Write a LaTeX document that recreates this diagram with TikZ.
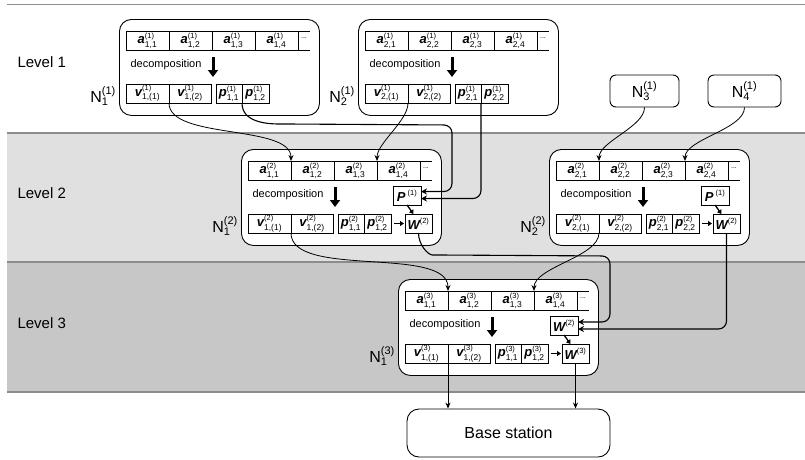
\documentclass[tikz,border=0pt]{standalone}
\usepackage{fontspec}
\setmainfont{Liberation Sans}
\usetikzlibrary{arrows.meta,calc}
\colorlet{bandLight}{black!12}
\colorlet{bandDark}{black!22}
\colorlet{bandLine}{black!45}
\tikzset{
agentstyle/.style={draw, rounded corners=12pt, line width=0.9pt, fill=white, minimum width=200pt, minimum height=96pt, anchor=north west},
cellstyle/.style={draw, line width=0.6pt, inner sep=0pt, outer sep=0pt, minimum height=19pt, anchor=north west, font=\fontsize{13}{14}\selectfont},
smallagent/.style={draw, rounded corners=6pt, line width=0.9pt, fill=white, minimum height=32pt, font=\fontsize{16}{18}\selectfont},
conn/.style={line width=0.8pt, -{Stealth[length=6pt,width=5pt]}},
connthick/.style={line width=1.1pt, rounded corners=8pt, -{Stealth[length=6pt,width=6pt]}},
bigarrow/.style={line width=3pt, -{Triangle[length=7pt,width=10pt]}},
smallarrow/.style={line width=1.3pt, -{Triangle[length=4pt,width=5pt]}}
}
\newcommand{\sym}[3]{$\mbox{\bfseries\itshape #1}^{\mbox{\fontsize{7.5}{8}\selectfont(#2)}}_{\mbox{\fontsize{8.5}{9}\selectfont #3}}$}
\newcommand{\bsym}[2]{$\mbox{\bfseries\itshape #1}^{\mbox{\fontsize{7.5}{8}\selectfont(#2)}}$}
\newcommand{\nlab}[2]{$\mbox{N}^{\mbox{\fontsize{11}{12}\selectfont(#2)}}_{\mbox{\fontsize{11}{12}\selectfont #1}}$}
% name, x, y, level, index
\newcommand{\agent}[5]{
  \node [agentstyle] (#1box) at (#2, #3) {};
  \foreach \i in {1,...,4}
  {
    \node [cellstyle, minimum width=43pt] (#1a\i) at ({#2 + 7 + 43*(\i-1)}, {#3 + 12}) {\sym{a}{#4}{#5,\i}};
  }
  \draw [line width=0.6pt] (#1a4.north east) -- ++(12, 0);
  \draw [line width=0.6pt] (#1a4.south east) -- ++(12, 0);
  \node [font=\fontsize{7}{8}\selectfont, inner sep=0pt] (#1dots) at ($(#1a4.east) + (6, -2)$) {...};

  \node [anchor=east, font=\fontsize{11}{13}\selectfont] (#1dec) at (#2 + 86, #3 + 46) {decomposition};
  \draw [bigarrow] (#2 + 94, #3 + 38) -- (#2 + 94, #3 + 58);

  \node [cellstyle, minimum width=43pt] (#1v1) at (#2 + 7, #3 + 65) {\sym{v}{#4}{#5,(1)}};
  \node [cellstyle, minimum width=42pt] (#1v2) at (#1v1.north east) {\sym{v}{#4}{#5,(2)}};
  \node [cellstyle, minimum width=26pt] (#1p1) at (#2 + 97, #3 + 65) {\sym{p}{#4}{#5,1}};
  \node [cellstyle, minimum width=27pt] (#1p2) at (#1p1.north east) {\sym{p}{#4}{#5,2}};

  \node [anchor=east, inner sep=1pt, font=\fontsize{16}{18}\selectfont] (#1lab) at (#2 - 2, #3 + 77) {\nlab{#5}{#4}};
}
% name, upper box, lower box
\newcommand{\merge}[3]{
  \node [cellstyle, minimum width=28pt] (#1P) at ($(#1box.north west) + (152, 37)$) {#2};
  \node [cellstyle, minimum width=27pt] (#1W) at ($(#1box.north west) + (164, 65)$) {#3};
  \draw [smallarrow] ([xshift=3pt]#1p2.east) -- ([xshift=-1pt]#1W.west);
  \draw [smallarrow] (#1P.south) -- ([xshift=-5pt]#1W.north);
}
\begin{document}
\begin{tikzpicture}[x=1pt, y=-1pt]
\useasboundingbox (0, 0) rectangle (805, 459);

% levels
\fill [bandLight] (7, 133) rectangle (805, 262);
\fill [bandDark] (7, 262) rectangle (805, 392);
\foreach \y in {4.5, 133, 262, 392}
  \draw [bandLine, line width=1.2pt] (7, \y) -- (805, \y);
\foreach \n/\y in {1/62, 2/193, 3/323}
  \node [anchor=west, font=\fontsize{15}{18}\selectfont] (level\n) at (14, \y) {Level \n};

% sensor nodes
\agent{n11}{119}{19}{1}{1}
\agent{n21}{358}{19}{1}{2}
\node [smallagent, minimum width=69pt] (n31) at (644.5, 91) {\nlab{3}{1}};
\node [smallagent, minimum width=73pt] (n41) at (744.5, 91) {\nlab{4}{1}};

\agent{n12}{241}{149}{2}{1}
\merge{n12}{\bsym{P\,}{1}}{\bsym{W}{2}}
\agent{n22}{549}{149}{2}{2}
\merge{n22}{\bsym{P\,}{1}}{\bsym{W}{2}}

\agent{n13}{398}{279}{3}{1}
\merge{n13}{\bsym{W}{2}}{\bsym{W}{3}}

\node [draw, rounded corners=12pt, line width=0.9pt, fill=white, minimum width=203pt, minimum height=48pt, font=\fontsize{16}{18}\selectfont] (base) at (508.5, 433) {Base station};

\coordinate (turn1) at (452, 125);
\coordinate (turn2) at (610, 256);

% level 1 to level 2
\draw [conn] (n11v1.south east) to[out=-90, in=90, looseness=0.7] (n12a1.north east);
\draw [conn] (n21v1.south east) to[out=-90, in=90, looseness=0.7] (n12a3.north east);
\draw [conn] (n31.south) to[out=-90, in=90, looseness=0.7] (n22a1.north east);
\draw [conn] (n41.south) to[out=-90, in=90, looseness=0.7] (n22a3.north east);
\draw [connthick] (n11p1.south east) to[out=-90, in=180] ++(46, 21) -- (turn1) |- ([yshift=4pt]n12P.east);
\draw [connthick] (n21p1.south east) |- ([yshift=-3pt]n12P.east);

% level 2 to level 3
\draw [conn] (n12v1.south east) to[out=-90, in=90, looseness=0.7] (n13a1.north east);
\draw [conn] (n22v1.south east) to[out=-90, in=90, looseness=0.7] (n13a3.north east);
\draw [connthick] (n12W.south) to[out=-90, in=180] ++(22, 22) -- (turn2) |- ([yshift=3.5pt]n13P.east);
\draw [connthick] (n22W.south) |- ([yshift=-3.5pt]n13P.east);

% level 3 to base station
\draw [conn] (n13v1.south east) -- (n13v1.south east |- base.north);
\draw [conn] (n13W.south) -- (n13W.south |- base.north);
\end{tikzpicture}
\end{document}
